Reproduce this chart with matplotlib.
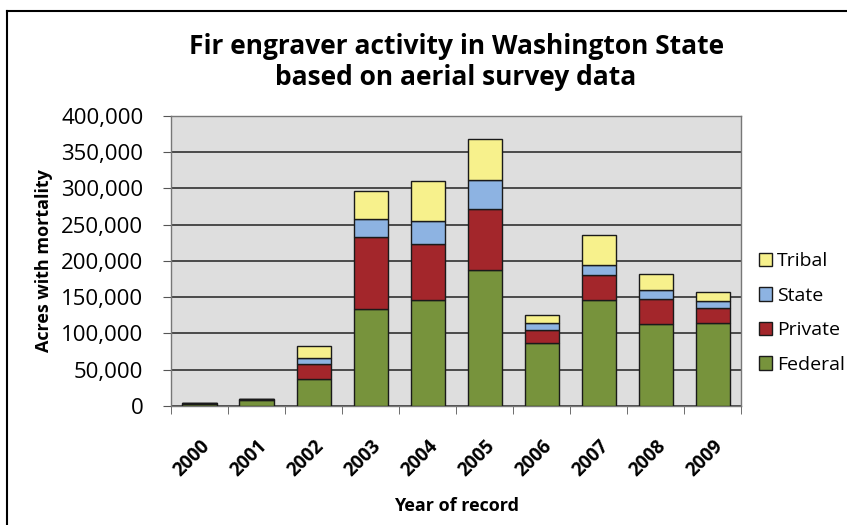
import matplotlib.pyplot as plt
import numpy as np
from matplotlib.lines import Line2D
from matplotlib.ticker import FuncFormatter, FixedLocator

plt.rcParams['font.family'] = ['Open Sans', 'DejaVu Sans']

years = ['2000', '2001', '2002', '2003', '2004', '2005', '2006', '2007', '2008', '2009']
federal = [3000, 8000, 37000, 133000, 146000, 187000, 87000, 146000, 113000, 115000]
private = [300, 1000, 21000, 100000, 78000, 84000, 17500, 34000, 35000, 20000]
state = [100, 300, 8000, 25000, 31000, 41000, 10000, 14000, 12500, 10000]
tribal = [200, 700, 17000, 39000, 56000, 56000, 10500, 42000, 21500, 11500]

series = [('Federal', federal, '#77933c'),
          ('Private', private, '#a3262b'),
          ('State', state, '#8db3e2'),
          ('Tribal', tribal, '#f7f18c')]

fig = plt.figure(figsize=(8.47, 5.25), dpi=100)
ax = fig.add_axes([0.202, 0.227, 0.673, 0.552])
ax.set_facecolor('#dedede')

x = np.arange(len(years))
bottom = np.zeros(len(years))
handles = []
for name, vals, color in series:
    b = ax.bar(x, vals, 0.6, bottom=bottom, color=color, edgecolor='#1a1a1a',
               linewidth=1.0, label=name, zorder=3)
    bottom += np.array(vals)
    handles.append(b)

ax.set_xlim(-0.5, len(years) - 0.5)
ax.set_ylim(0, 400000)
ax.set_yticks(np.arange(0, 400001, 50000))
ax.yaxis.set_major_formatter(FuncFormatter(lambda v, p: f'{int(v):,}'))
ax.grid(axis='y', color='#303030', linewidth=1.2, zorder=1)
ax.tick_params(axis='y', labelsize=16, length=6, color='#555555', pad=14)

ax.set_xticks(x)
ax.set_xticklabels(years, rotation=45, ha='right', rotation_mode='anchor',
                   fontsize=13.5, fontweight='bold')
ax.tick_params(axis='x', which='major', length=0, pad=22)
ax.xaxis.set_minor_locator(FixedLocator(np.arange(-0.5, len(years), 1)))
ax.tick_params(axis='x', which='minor', length=6, color='#555555')

for s in ax.spines.values():
    s.set_color('#777777')
    s.set_linewidth(1.0)

ax.set_ylabel('Acres with mortality', fontsize=13, fontweight='bold', labelpad=6)
ax.set_xlabel('Year of record', fontsize=13, fontweight='bold', labelpad=12)
ax.set_title('Fir engraver activity in Washington State\nbased on aerial survey data',
             fontsize=19, fontweight='bold', pad=22, linespacing=1.2)

leg = ax.legend(handles[::-1], [s[0] for s in series][::-1],
                loc='center left', bbox_to_anchor=(1.0, 0.32), frameon=False,
                fontsize=14, handlelength=0.7, handleheight=0.7, handletextpad=0.25,
                labelspacing=0.85)

# frame of the scanned figure (top and left edges)
fig.add_artist(Line2D([7 / 847, 7 / 847], [0, 1 - 11 / 525], transform=fig.transFigure,
                      color='black', linewidth=1.5))
fig.add_artist(Line2D([7 / 847, 1], [1 - 11 / 525, 1 - 11 / 525], transform=fig.transFigure,
                      color='black', linewidth=1.5))

fig.savefig('out.png', dpi=100, facecolor='white')
